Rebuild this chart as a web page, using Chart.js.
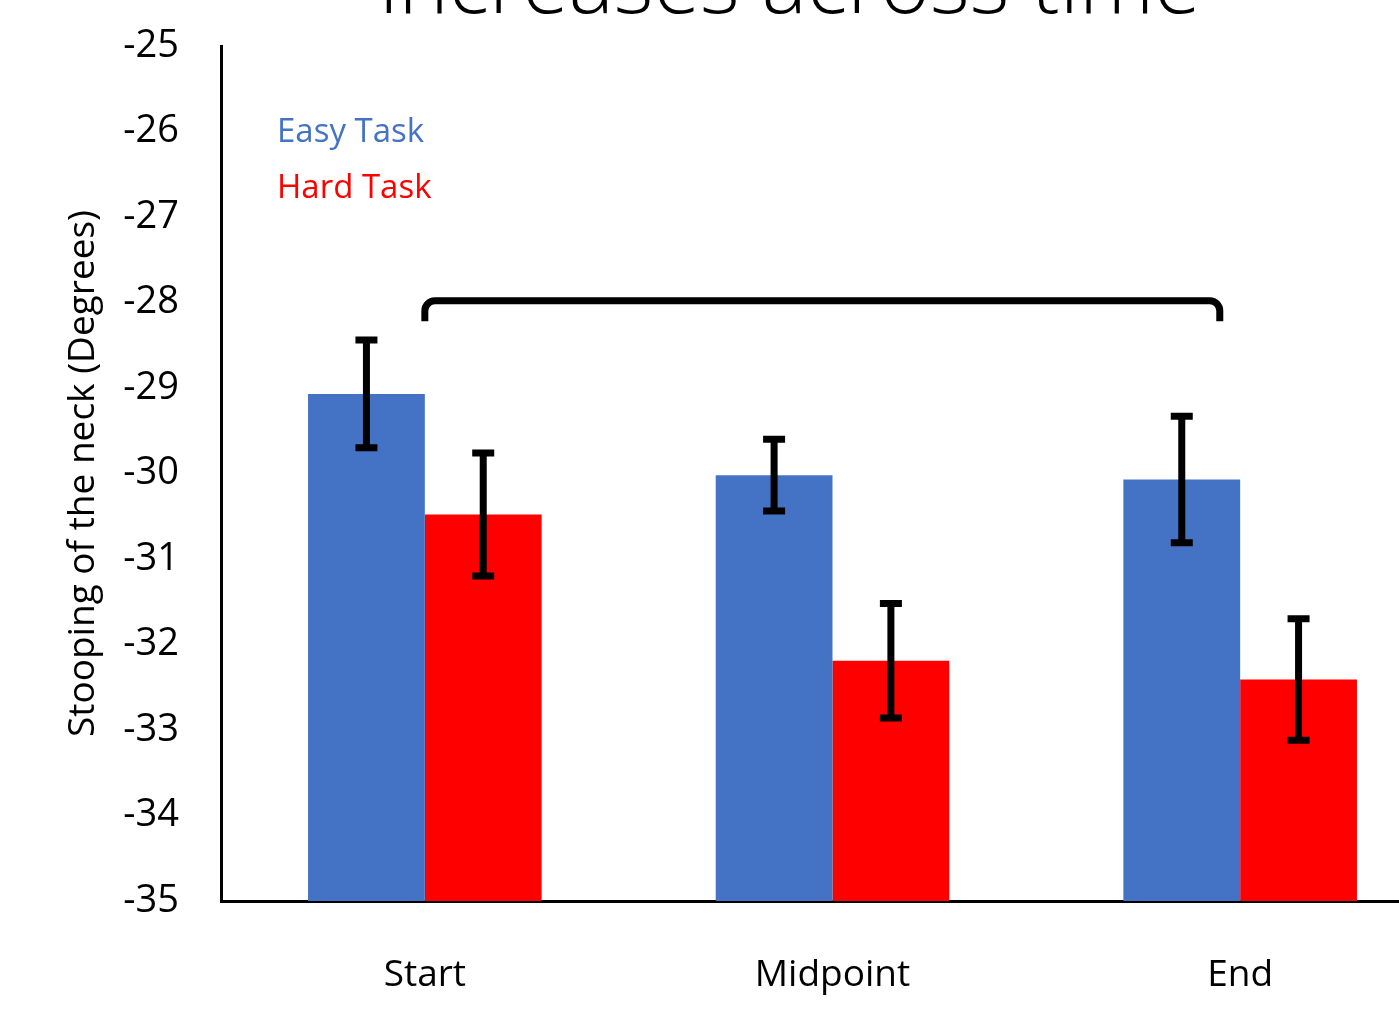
<!DOCTYPE html>
<html>
<head>
<meta charset="utf-8">
<script src="https://cdn.jsdelivr.net/npm/chart.js@4.4.1/dist/chart.umd.min.js"></script>
<style>
  html, body { margin: 0; padding: 0; background: #fff; overflow: hidden; width: 1399px; height: 1010px; }
  #wrap { position: absolute; left: 0; top: -53px; width: 1460px; height: 1063px; }
</style>
</head>
<body>
<div id="wrap"><canvas id="graph"></canvas></div>
<script>
const stages = ['Start', 'Midpoint', 'End'];
const easyTask = [-29.07, -30.02, -30.07];
const hardTask = [-30.48, -32.19, -32.41];
const easyErr = [0.63, 0.42, 0.74];
const hardErr = [0.72, 0.67, 0.71];
const yTicks = [-35, -34, -33, -32, -31, -30, -29, -28, -27, -26, -25];

// bracket over the groups: from/to in category units, level and drop in degrees
const bracketFrom = 0;
const bracketTo = 1.95;
const bracketLevel = -27.98;
const bracketDrop = -28.22;

const FONT = "'Open Sans', 'Noto Sans', sans-serif";

const errorBars = {
    id: 'errorBars',
    afterDatasetsDraw(chart) {
        const ctx = chart.ctx;
        const y = chart.scales.y;
        ctx.save();
        ctx.strokeStyle = '#000';
        ctx.lineWidth = 7;
        chart.data.datasets.forEach((ds, i) => {
            const meta = chart.getDatasetMeta(i);
            meta.data.forEach((bar, j) => {
                const top = y.getPixelForValue(ds.data[j] + ds.errors[j]);
                const bottom = y.getPixelForValue(ds.data[j] - ds.errors[j]);
                ctx.beginPath();
                ctx.moveTo(bar.x, top);
                ctx.lineTo(bar.x, bottom);
                ctx.moveTo(bar.x - 11, top);
                ctx.lineTo(bar.x + 11, top);
                ctx.moveTo(bar.x - 11, bottom);
                ctx.lineTo(bar.x + 11, bottom);
                ctx.stroke();
            });
        });
        ctx.restore();
    }
};

const bracket = {
    id: 'bracket',
    afterDatasetsDraw(chart) {
        const ctx = chart.ctx;
        const x = chart.scales.x, y = chart.scales.y;
        const x0 = x.getPixelForValue(bracketFrom);
        const x1 = x.getPixelForValue(bracketTo);
        const yt = y.getPixelForValue(bracketLevel);
        const yb = y.getPixelForValue(bracketDrop);
        const r = 10;
        ctx.save();
        ctx.strokeStyle = '#000';
        ctx.lineWidth = 7;
        ctx.beginPath();
        ctx.moveTo(x0, yb);
        ctx.arcTo(x0, yt, x0 + r, yt, r);
        ctx.arcTo(x1, yt, x1, yt + r, r);
        ctx.lineTo(x1, yb);
        ctx.stroke();
        ctx.restore();
    }
};

// coloured text legend in the upper left of the plot
const textLegend = {
    id: 'textLegend',
    afterDraw(chart) {
        const ctx = chart.ctx;
        const area = chart.chartArea;
        ctx.save();
        ctx.font = '33px ' + FONT;
        ctx.textBaseline = 'middle';
        ctx.textAlign = 'left';
        chart.data.datasets.forEach((ds, i) => {
            ctx.fillStyle = ds.backgroundColor;
            ctx.fillText(ds.label, area.left + 56, area.top + 87 + i * 56);
        });
        ctx.restore();
    }
};

// slide heading, sits partly above the top edge
const heading = {
    id: 'heading',
    afterDraw(chart) {
        const ctx = chart.ctx;
        ctx.save();
        ctx.font = '300 85px ' + FONT;
        ctx.fillStyle = '#000';
        ctx.textAlign = 'center';
        ctx.textBaseline = 'alphabetic';
        ctx.fillText('increases across time', 790, 66);
        ctx.restore();
    }
};

const ctx = document.getElementById('graph').getContext('2d');
const chart = new Chart(ctx, {
    type: 'bar',
    data: {
        labels: stages,
        datasets: [
            {
                label: 'Easy Task',
                data: easyTask,
                errors: easyErr,
                backgroundColor: '#4472C4',
                base: -35,
            },
            {
                label: 'Hard Task',
                data: hardTask,
                errors: hardErr,
                backgroundColor: '#FF0000',
                base: -35,
            }
        ]
    },
    options: {
        responsive: true,
        maintainAspectRatio: false,
        animation: false,
        categoryPercentage: 0.573,
        barPercentage: 1.0,
        layout: { padding: { top: 99, right: 16, bottom: 0, left: 0 } },
        plugins: {
            legend: { display: false },
            tooltip: { enabled: false },
            title: { display: false }
        },
        scales: {
            x: {
                grid: { display: false, drawTicks: false },
                border: { display: true, color: '#000', width: 3 },
                ticks: { color: '#000', font: { family: FONT, size: 37 }, padding: 52 },
                afterFit(scale) { scale.height = 109; }
            },
            y: {
                min: -35,
                max: -25,
                afterBuildTicks(scale) { scale.ticks = yTicks.map(v => ({ value: v })); },
                grid: { display: false, drawTicks: false },
                border: { display: true, color: '#000', width: 3 },
                ticks: { color: '#000', font: { family: FONT, size: 38 }, padding: 42 },
                title: {
                    display: true,
                    text: 'Stooping of the neck (Degrees)',
                    color: '#000',
                    font: { family: FONT, size: 37 },
                    padding: { top: 61, bottom: 0 }
                },
                afterFit(scale) { scale.width = 221; }
            }
        }
    },
    plugins: [errorBars, bracket, textLegend, heading]
});
</script>
</body>
</html>
